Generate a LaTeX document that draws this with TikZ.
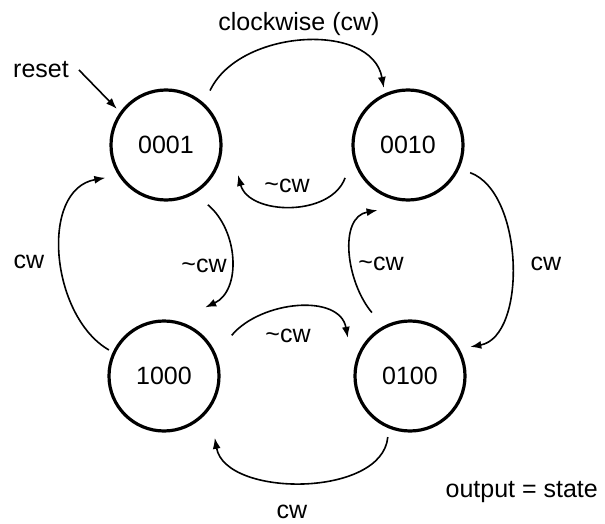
\documentclass[tikz,border=0pt]{standalone}
\usepackage{fontspec}
\setmainfont{Liberation Sans}
\usetikzlibrary{arrows.meta,calc}
\begin{document}
\begin{tikzpicture}[x=1pt,y=1pt,
  state/.style={circle,draw,line width=3.2pt,minimum size=110pt,inner sep=0pt,
    font=\fontsize{25}{30}\selectfont},
  lbl/.style={anchor=base,inner sep=0pt,font=\fontsize{25}{30}\selectfont},
  edge/.style={line width=1.6pt,-{Latex[length=11pt,width=8pt]}},
]
\useasboundingbox (0,0) rectangle (605,523);

% states of the ring counter
\node[state] (s1) at (166,378) {0001};
\node[state] (s2) at (408,378) {0010};
\node[state] (s3) at (164,147) {1000};
\node[state] (s4) at (410,147) {0100};

% labels
\node[lbl] (ltop)   at (299,492) {clockwise (cw)};
\node[lbl,anchor=base west,inner sep=0pt] (reset) at (13,445) {reset};
\node[lbl] (ncwT)  at (287,330) {\textasciitilde cw};
\node[lbl] (ncwL)  at (204,251) {\textasciitilde cw};
\node[lbl] (ncwR)  at (381,253) {\textasciitilde cw};
\node[lbl] (ncwB)  at (288,181) {\textasciitilde cw};
\node[lbl] (cwL)   at (29,255) {cw};
\node[lbl] (cwR)   at (546,253) {cw};
\node[lbl] (cwB)   at (292,5) {cw};
\node[lbl,anchor=base east] (out) at (598,26) {output = state};

% reset arrow
\draw[edge] ($(reset.base east)+(10pt,8pt)$) -- ($(s1)+(143.7:61pt)$);

% clockwise transitions
\draw[edge] ($(s1)+(51:70pt)$) to[out=65,in=100] ($(s2)+(113:62pt)$);
\draw[edge] ($(s2)+(-24:68pt)$) to[out=-20,in=10,looseness=0.85] ($(s4)+(25.8:67pt)$);
\draw[edge] ($(s4)+(250:65pt)$) to[out=-95,in=-80,looseness=0.9] ($(s3)+(-50.6:80pt)$);
\draw[edge] ($(s3)+(154.7:61pt)$) to[out=150,in=190] ($(s1)+(208.4:69pt)$);

% counter-clockwise transitions
\draw[edge] ($(s2)+(207.6:71pt)$) to[out=-110,in=-75] ($(s1)+(-22.6:78pt)$);
\draw[edge] ($(s1)+(-55:73pt)$) to[out=-40,in=25] ($(s3)+(59:80pt)$);
\draw[edge] ($(s3)+(31:79pt)$) to[out=50,in=100] ($(s4)+(148.5:73pt)$);
\draw[edge] ($(s4)+(121:74pt)$) to[out=130,in=190] ($(s2)+(245:72pt)$);
\end{tikzpicture}
\end{document}
